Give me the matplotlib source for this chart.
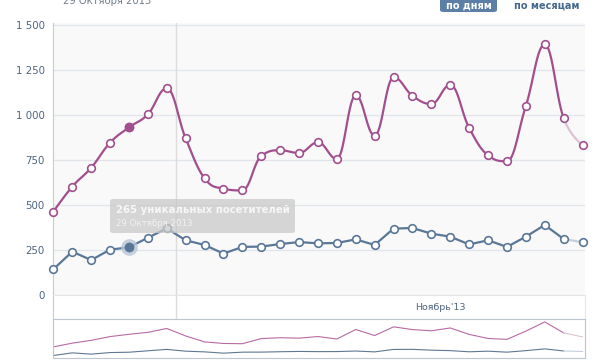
import numpy as np
import pandas as pd
import matplotlib
matplotlib.use('Agg')
import matplotlib.pyplot as plt
import matplotlib.dates as mdates
from matplotlib.patches import FancyBboxPatch

plt.rcParams['font.family'] = ['DejaVu Sans']

# data, 25 Oct - 22 Nov 2013 (points sit at midday)
days = pd.date_range('2013-10-25 12:00', periods=29, freq='D')
views = [463, 602, 707, 846, 931, 1004, 1148, 870, 648, 591, 581, 772, 804, 789,
         848, 756, 1109, 885, 1209, 1107, 1061, 1167, 928, 776, 743, 1050, 1392, 983, 835]
visitors = [143, 241, 194, 252, 265, 318, 370, 304, 278, 230, 267, 269, 283, 294,
            287, 289, 309, 278, 369, 372, 341, 324, 281, 304, 267, 324, 389, 311, 293]
yticks = [0, 250, 500, 750, 1000, 1250, 1500]
ytick_labels = ['0', '250', '500', '750', '1 000', '1 250', '1 500']
sel = 4  # 29 Oct, the hovered point
title = '29 Октября 2013'
tip_main = '265 уникальных посетителей'
tip_date = '29 Октября 2013'
month_label = "Ноябрь'13"
btn_days = 'по дням'
btn_months = 'по месяцам'

pink = '#a24f8e'
pink_fade = '#dcc3d4'
blue = '#5b7798'
blue_fade = '#c5cfdb'
tick_col = '#4d6580'

W, H = 605, 361


def rect(x0, y0, x1, y1):
    return [x0 / W, 1 - y1 / H, (x1 - x0) / W, (y1 - y0) / H]


def spline(x, y, n=24):
    # highcharts-like smoothing of a line into bezier segments
    x = np.asarray(x, float)
    y = np.asarray(y, float)
    m = len(x)
    lc = np.column_stack([x, y]).copy()
    rc = lc.copy()
    for i in range(1, m - 1):
        lx = (1.5 * x[i] + x[i - 1]) / 2.5
        ly = (1.5 * y[i] + y[i - 1]) / 2.5
        rx = (1.5 * x[i] + x[i + 1]) / 2.5
        ry = (1.5 * y[i] + y[i + 1]) / 2.5
        corr = (ry - ly) * (rx - x[i]) / (rx - lx) + y[i] - ry
        ly += corr
        ry += corr
        if ly > y[i - 1] and ly > y[i]:
            ly = max(y[i - 1], y[i]); ry = 2 * y[i] - ly
        elif ly < y[i - 1] and ly < y[i]:
            ly = min(y[i - 1], y[i]); ry = 2 * y[i] - ly
        if ry > y[i + 1] and ry > y[i]:
            ry = max(y[i + 1], y[i]); ly = 2 * y[i] - ry
        elif ry < y[i + 1] and ry < y[i]:
            ry = min(y[i + 1], y[i]); ly = 2 * y[i] - ry
        lc[i] = lx, ly
        rc[i] = rx, ry
    t = np.linspace(0, 1, n)[:, None]
    segs = []
    for i in range(m - 1):
        p0 = np.array([x[i], y[i]]); p3 = np.array([x[i + 1], y[i + 1]])
        p1 = rc[i]; p2 = lc[i + 1]
        b = (1 - t) ** 3 * p0 + 3 * (1 - t) ** 2 * t * p1 + 3 * (1 - t) * t ** 2 * p2 + t ** 3 * p3
        segs.append(b)
    return segs


xs = mdates.date2num(days)
x0 = xs[0]
xlim = (x0 - 0.02, x0 + 28.13)
nov1 = mdates.date2num(pd.Timestamp('2013-11-01'))

fig = plt.figure(figsize=(6.05, 3.61), dpi=100)

# main chart
ax = fig.add_axes(rect(53, 23, 585, 295))
ax.set_facecolor('#f9f9f9')
ax.set_xlim(*xlim)
ax.set_ylim(0, 1511)
ax.set_yticks(yticks)
ax.set_yticklabels(ytick_labels)
ax.tick_params(axis='y', length=0, pad=6, labelsize=7.4, labelcolor=tick_col)
ax.set_xticks([])
for s in ['top', 'right', 'bottom']:
    ax.spines[s].set_visible(False)
ax.spines['left'].set_color('#c3ccd5')
for v in yticks:
    ax.axhline(v, color='#e2e6ea', lw=1, zorder=0)
ax.axvline(nov1, color='#dcdcdc', lw=1, zorder=0)

segs = spline(xs, views)
for i, s in enumerate(segs):
    ax.plot(s[:, 0], s[:, 1], color=pink if i < len(segs) - 1 else pink_fade,
            lw=1.6, zorder=2, solid_capstyle='round', clip_on=False)
ax.plot(xs[:-1], visitors[:-1], color=blue, lw=1.6, zorder=2)
ax.plot(xs[-2:], visitors[-2:], color=blue_fade, lw=1.6, zorder=2, clip_on=False)

ax.plot(xs, views, 'o', ms=5.5, mfc='white', mec=pink, mew=1.2, zorder=3, clip_on=False)
ax.plot(xs, visitors, 'o', ms=5.5, mfc='white', mec=blue, mew=1.2, zorder=3, clip_on=False)
ax.plot(xs[sel], views[sel], 'o', ms=6, mfc=pink, mec=pink, zorder=4)
ax.plot(xs[sel], visitors[sel], 'o', ms=12, mfc='#b7c6d8', mec='none', alpha=0.8, zorder=4)
ax.plot(xs[sel], visitors[sel], 'o', ms=6, mfc=blue, mec=blue, zorder=5)

# x axis band
axb = fig.add_axes(rect(53, 295, 585, 319))
axb.set_facecolor('white')
axb.set_xlim(*xlim)
axb.set_ylim(0, 1)
axb.set_xticks([]); axb.set_yticks([])
for s in axb.spines.values():
    s.set_color('#e6e6e6')
axb.spines['left'].set_color('#c3ccd5')
axb.axvline(nov1, color='#dcdcdc', lw=1)
axb.text(x0 + (440 - 53.3) / 18.9, 0.5, month_label, ha='center', va='center',
         fontsize=6.8, color=tick_col)

# navigator
axn = fig.add_axes(rect(53, 319, 585, 358))
axn.set_facecolor('white')
axn.set_xlim(*xlim)
axn.set_ylim(50, 1500)
axn.set_xticks([]); axn.set_yticks([])
for s in axn.spines.values():
    s.set_color('#bcc6d0')
axn.plot(xs[:-1], views[:-1], color='#b86aa3', lw=0.8)
axn.plot(xs[-2:], views[-2:], color=pink_fade, lw=0.8)
axn.plot(xs[:-1], visitors[:-1], color='#5f7892', lw=0.8)
axn.plot(xs[-2:], visitors[-2:], color=blue_fade, lw=0.8)

# header (date line is cut by the top edge, as in the original screenshot)
fig.text(63 / W, 1 - 4.5 / H, title, fontsize=7.2, color='#6f7e8d', va='baseline')
fig.patches.append(FancyBboxPatch((440 / W, 1 - 12 / H), 57 / W, 14 / H,
                                  boxstyle='round,pad=0,rounding_size=0.006',
                                  transform=fig.transFigure, fc='#5c7fa5', ec='none'))
fig.text(468.5 / W, 1 - 5.5 / H, btn_days, fontsize=7, fontweight='bold', color='white',
         ha='center', va='center')
fig.text(546.5 / W, 1 - 5.5 / H, btn_months, fontsize=7, fontweight='bold', color='#45688e',
         ha='center', va='center')

# tooltip
fig.patches.append(FancyBboxPatch((110 / W, 1 - 233 / H), 185 / W, 34 / H,
                                  boxstyle='round,pad=0,rounding_size=0.006',
                                  transform=fig.transFigure, fc='#c9c9c9', ec='none',
                                  alpha=0.75, zorder=10))
fig.text(116 / W, 1 - 210 / H, tip_main, fontsize=7.3, fontweight='bold', color='#f6f6f6',
         va='center', zorder=11)
fig.text(116 / W, 1 - 223 / H, tip_date, fontsize=6.2, color='#f2f2f2', va='center', zorder=11)

fig.savefig('out.png', dpi=100)
